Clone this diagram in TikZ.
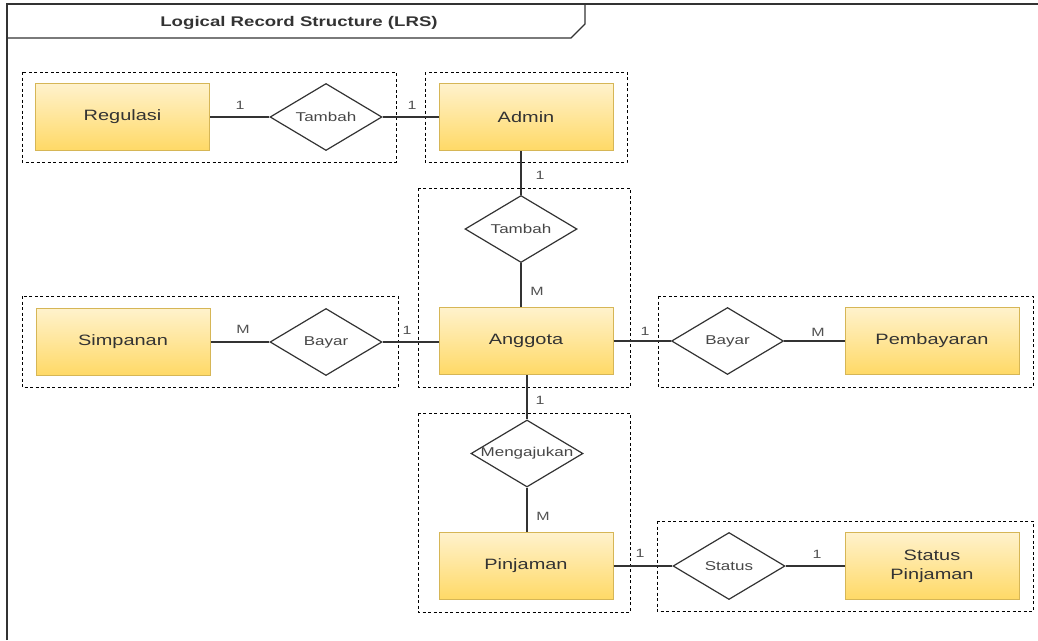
\documentclass[tikz,border=0pt]{standalone}
\usepackage{fontspec}
\setmainfont{Liberation Sans}[FakeStretch=1.33]
\usetikzlibrary{shapes.geometric}
\definecolor{ytop}{HTML}{FFF2CC}
\definecolor{ybot}{HTML}{FFD966}
\definecolor{yborder}{HTML}{D6B656}
\definecolor{ink}{HTML}{333333}
\tikzset{
  entity/.style={rectangle, draw=yborder, line width=1pt, top color=ytop, bottom color=ybot,
    minimum width=174pt, minimum height=67pt, inner sep=0pt, text=ink,
    font=\fontsize{15}{19}\selectfont, align=center},
  rel/.style={diamond, draw=ink, line width=1.2pt, fill=white, minimum width=112pt,
    minimum height=67pt, inner sep=0pt, label={[text=ink!90, font=\fontsize{12.8}{14}\selectfont]center:#1}},
  conn/.style={draw=ink, line width=1.2pt},
  card/.style={text=ink!85, font=\fontsize{12}{14}\selectfont, inner sep=0pt},
  grp/.style={draw=black, line width=0.9pt, dash pattern=on 3pt off 2.5pt},
  frame/.style={draw=ink, line width=1.3pt}
}
\begin{document}
\begin{tikzpicture}[x=1pt, y=-1pt]
\useasboundingbox (0,0) rectangle (1038,640);
% frame
\draw[frame] (7,640) -- (7,4) -- (1038,4);
\draw[frame] (7,38) -- (571,38) -- (585,24) -- (585,4);
\node[font=\bfseries\fontsize{14}{16}\selectfont, text=ink] (title) at (299,23) {Logical Record Structure (LRS)};
% groups
\draw[grp] (22,72) rectangle (396,162);
\draw[grp] (425,72) rectangle (627,162);
\draw[grp] (418,188) rectangle (630,387);
\draw[grp] (22,296) rectangle (398,387);
\draw[grp] (658,296) rectangle (1033,387);
\draw[grp] (418,413) rectangle (630,612);
\draw[grp] (657,521) rectangle (1033,611);
% entities
\node[entity] (reg) at (122.5,117) {\raisebox{-2pt}{Regulasi}};
\node[entity] (adm) at (526,117) {\raisebox{-2pt}{Admin}};
\node[entity] (ang) at (526,341) {\raisebox{-2pt}{Anggota}};
\node[entity] (simp) at (123,342) {\raisebox{-2pt}{Simpanan}};
\node[entity] (pemb) at (932,341) {\raisebox{-2pt}{Pembayaran}};
\node[entity] (pinj) at (526,566) {\raisebox{-2pt}{Pinjaman}};
\node[entity] (stp) at (932,566) {Status\\Pinjaman};
% relationships
\node[rel=Tambah] (t1) at (326,117) {};
\node[rel=Tambah] (t2) at (521,229) {};
\node[rel=Bayar] (b1) at (326,342) {};
\node[rel=Bayar] (b2) at (727.5,341) {};
\node[rel=Mengajukan] (mg) at (527,453.5) {};
\node[rel=Status] (st) at (729,566) {};
% connectors
\draw[conn] (reg) -- (t1);
\draw[conn] (t1) -- (adm);
\draw[conn] (t2.north |- adm.south) -- (t2.north);
\draw[conn] (t2.south) -- (t2.south |- ang.north);
\draw[conn] (simp) -- (b1);
\draw[conn] (b1.east) -- (b1.east -| ang.west);
\draw[conn] (ang.east |- b2.west) -- (b2.west);
\draw[conn] (b2) -- (pemb);
\draw[conn] (ang.south -| mg.north) -- (mg.north);
\draw[conn] (mg.south) -- (mg.south |- pinj.north);
\draw[conn] (pinj.east |- st.west) -- (st.west);
\draw[conn] (st) -- (stp);
% cardinalities
\node[card] (c1) at (240,105) {1};
\node[card] (c2) at (412,105) {1};
\node[card] (c3) at (540,175) {1};
\node[card] (c4) at (537,291) {M};
\node[card] (c5) at (243,329) {M};
\node[card] (c6) at (407,330) {1};
\node[card] (c7) at (645,331) {1};
\node[card] (c8) at (818,332) {M};
\node[card] (c9) at (540,400) {1};
\node[card] (c10) at (543,516) {M};
\node[card] (c11) at (640,553) {1};
\node[card] (c12) at (817,554) {1};
\end{tikzpicture}
\end{document}
